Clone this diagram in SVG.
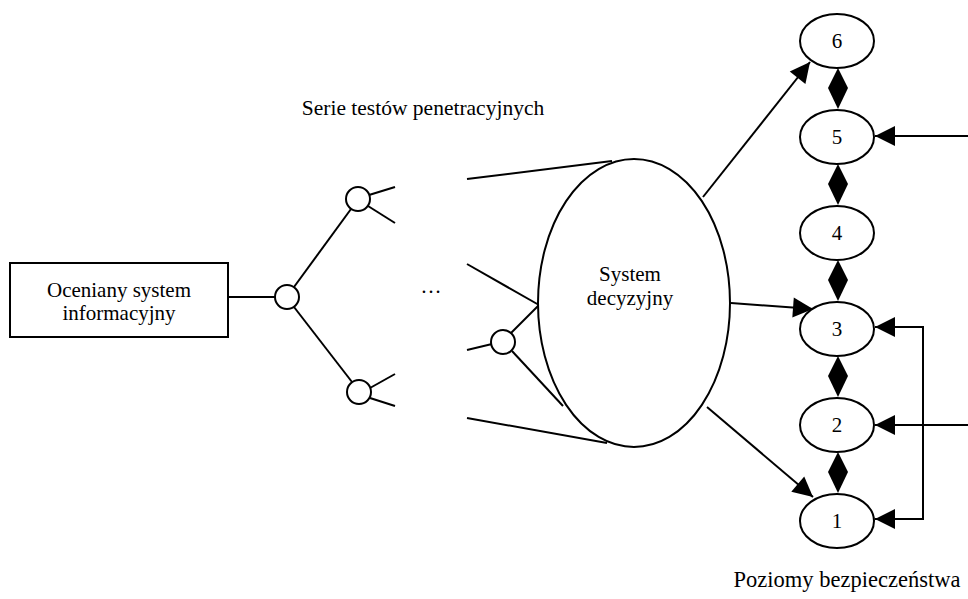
<svg xmlns="http://www.w3.org/2000/svg" width="968" height="599" viewBox="0 0 968 599">
  <style>
    .ln { fill: none; stroke: #000; stroke-width: 2; }
    .shape { fill: #fff; stroke: #000; stroke-width: 2; }
    .txt { font-family: "Liberation Serif", "Times New Roman", serif; font-size: 21px; fill: #000; text-anchor: middle; }
    .dia { fill: #000; stroke: none; }
  </style>
  <defs>
    <marker id="arrow" markerUnits="userSpaceOnUse" markerWidth="22" markerHeight="22" viewBox="0 0 22 22" refX="21" refY="11" orient="auto">
      <path d="M1,1 L21,11 L1,21 Z" fill="#000"/>
    </marker>
  </defs>

  <!-- connectors -->
  <g id="connectors">
    <!-- source box to root test node -->
    <line class="ln" x1="228" y1="297" x2="275" y2="297"/>
    <!-- branching tree of tests -->
    <line class="ln" x1="294" y1="287" x2="351" y2="209"/>
    <line class="ln" x1="294" y1="307" x2="352" y2="382"/>
    <line class="ln" x1="369" y1="195" x2="395" y2="187"/>
    <line class="ln" x1="368" y1="206" x2="395" y2="223"/>
    <line class="ln" x1="370" y1="388" x2="395" y2="374"/>
    <line class="ln" x1="370" y1="398" x2="395" y2="406"/>
    <!-- test results into the decision system -->
    <line class="ln" x1="467" y1="179" x2="612" y2="161"/>
    <line class="ln" x1="467" y1="264" x2="539" y2="305"/>
    <line class="ln" x1="467" y1="350" x2="492" y2="344"/>
    <line class="ln" x1="511" y1="333" x2="539" y2="305"/>
    <line class="ln" x1="512" y1="351" x2="563" y2="406"/>
    <line class="ln" x1="467" y1="418" x2="607" y2="443"/>
    <!-- decision system to security levels -->
    <line class="ln" x1="703" y1="197" x2="810" y2="62" marker-end="url(#arrow)"/>
    <line class="ln" x1="731" y1="303" x2="813" y2="309" marker-end="url(#arrow)"/>
    <line class="ln" x1="707" y1="407" x2="813" y2="497" marker-end="url(#arrow)"/>
    <!-- external inputs -->
    <line class="ln" x1="968" y1="136" x2="875" y2="136" marker-end="url(#arrow)"/>
    <line class="ln" x1="968" y1="425" x2="875" y2="425" marker-end="url(#arrow)"/>
    <polyline class="ln" points="875,327 923,327 923,519 875,519"/>
    <line class="ln" x1="923" y1="327" x2="875" y2="327" marker-end="url(#arrow)"/>
    <line class="ln" x1="923" y1="519" x2="875" y2="519" marker-end="url(#arrow)"/>
    <!-- level transitions -->
    <polygon class="dia" points="838,68 848,88 838,109 828,88"/>
    <polygon class="dia" points="838,164 848,184 838,205 828,184"/>
    <polygon class="dia" points="838,260 848,280 838,301 828,280"/>
    <polygon class="dia" points="838,356 848,376 838,397 828,376"/>
    <polygon class="dia" points="838,452 848,472 838,493 828,472"/>
  </g>

  <g id="source">
    <rect class="shape" x="10" y="263" width="218" height="74"/>
    <text class="txt" x="119" y="297">Oceniany system</text>
    <text class="txt" x="119" y="320">informacyjny</text>
  </g>

  <g id="test-root"><circle class="shape" cx="287" cy="297" r="12"/></g>
  <g id="test-upper"><circle class="shape" cx="358" cy="199" r="12"/></g>
  <g id="test-lower"><circle class="shape" cx="359" cy="392" r="12"/></g>
  <g id="test-last"><circle class="shape" cx="503" cy="342" r="12"/></g>
  <g id="ellipsis"><text class="txt" x="431" y="293">…</text></g>

  <g id="tests-label"><text class="txt" x="423" y="115" style="font-size:21.5px">Serie testów penetracyjnych</text></g>

  <g id="decision-system">
    <ellipse class="shape" cx="634" cy="303" rx="96" ry="144"/>
    <text class="txt" x="630" y="281">System</text>
    <text class="txt" x="630" y="305">decyzyjny</text>
  </g>

  <g id="level-6"><ellipse class="shape" cx="837" cy="41" rx="37" ry="27"/><text class="txt" x="837" y="48">6</text></g>
  <g id="level-5"><ellipse class="shape" cx="837" cy="137" rx="37" ry="27"/><text class="txt" x="837" y="144">5</text></g>
  <g id="level-4"><ellipse class="shape" cx="837" cy="233" rx="37" ry="27"/><text class="txt" x="837" y="240">4</text></g>
  <g id="level-3"><ellipse class="shape" cx="837" cy="329" rx="37" ry="27"/><text class="txt" x="837" y="336">3</text></g>
  <g id="level-2"><ellipse class="shape" cx="837" cy="425" rx="37" ry="27"/><text class="txt" x="837" y="432">2</text></g>
  <g id="level-1"><ellipse class="shape" cx="837" cy="521" rx="37" ry="27"/><text class="txt" x="837" y="528">1</text></g>

  <g id="levels-label"><text class="txt" x="847" y="587" style="font-size:22.5px">Poziomy bezpieczeństwa</text></g>
</svg>
